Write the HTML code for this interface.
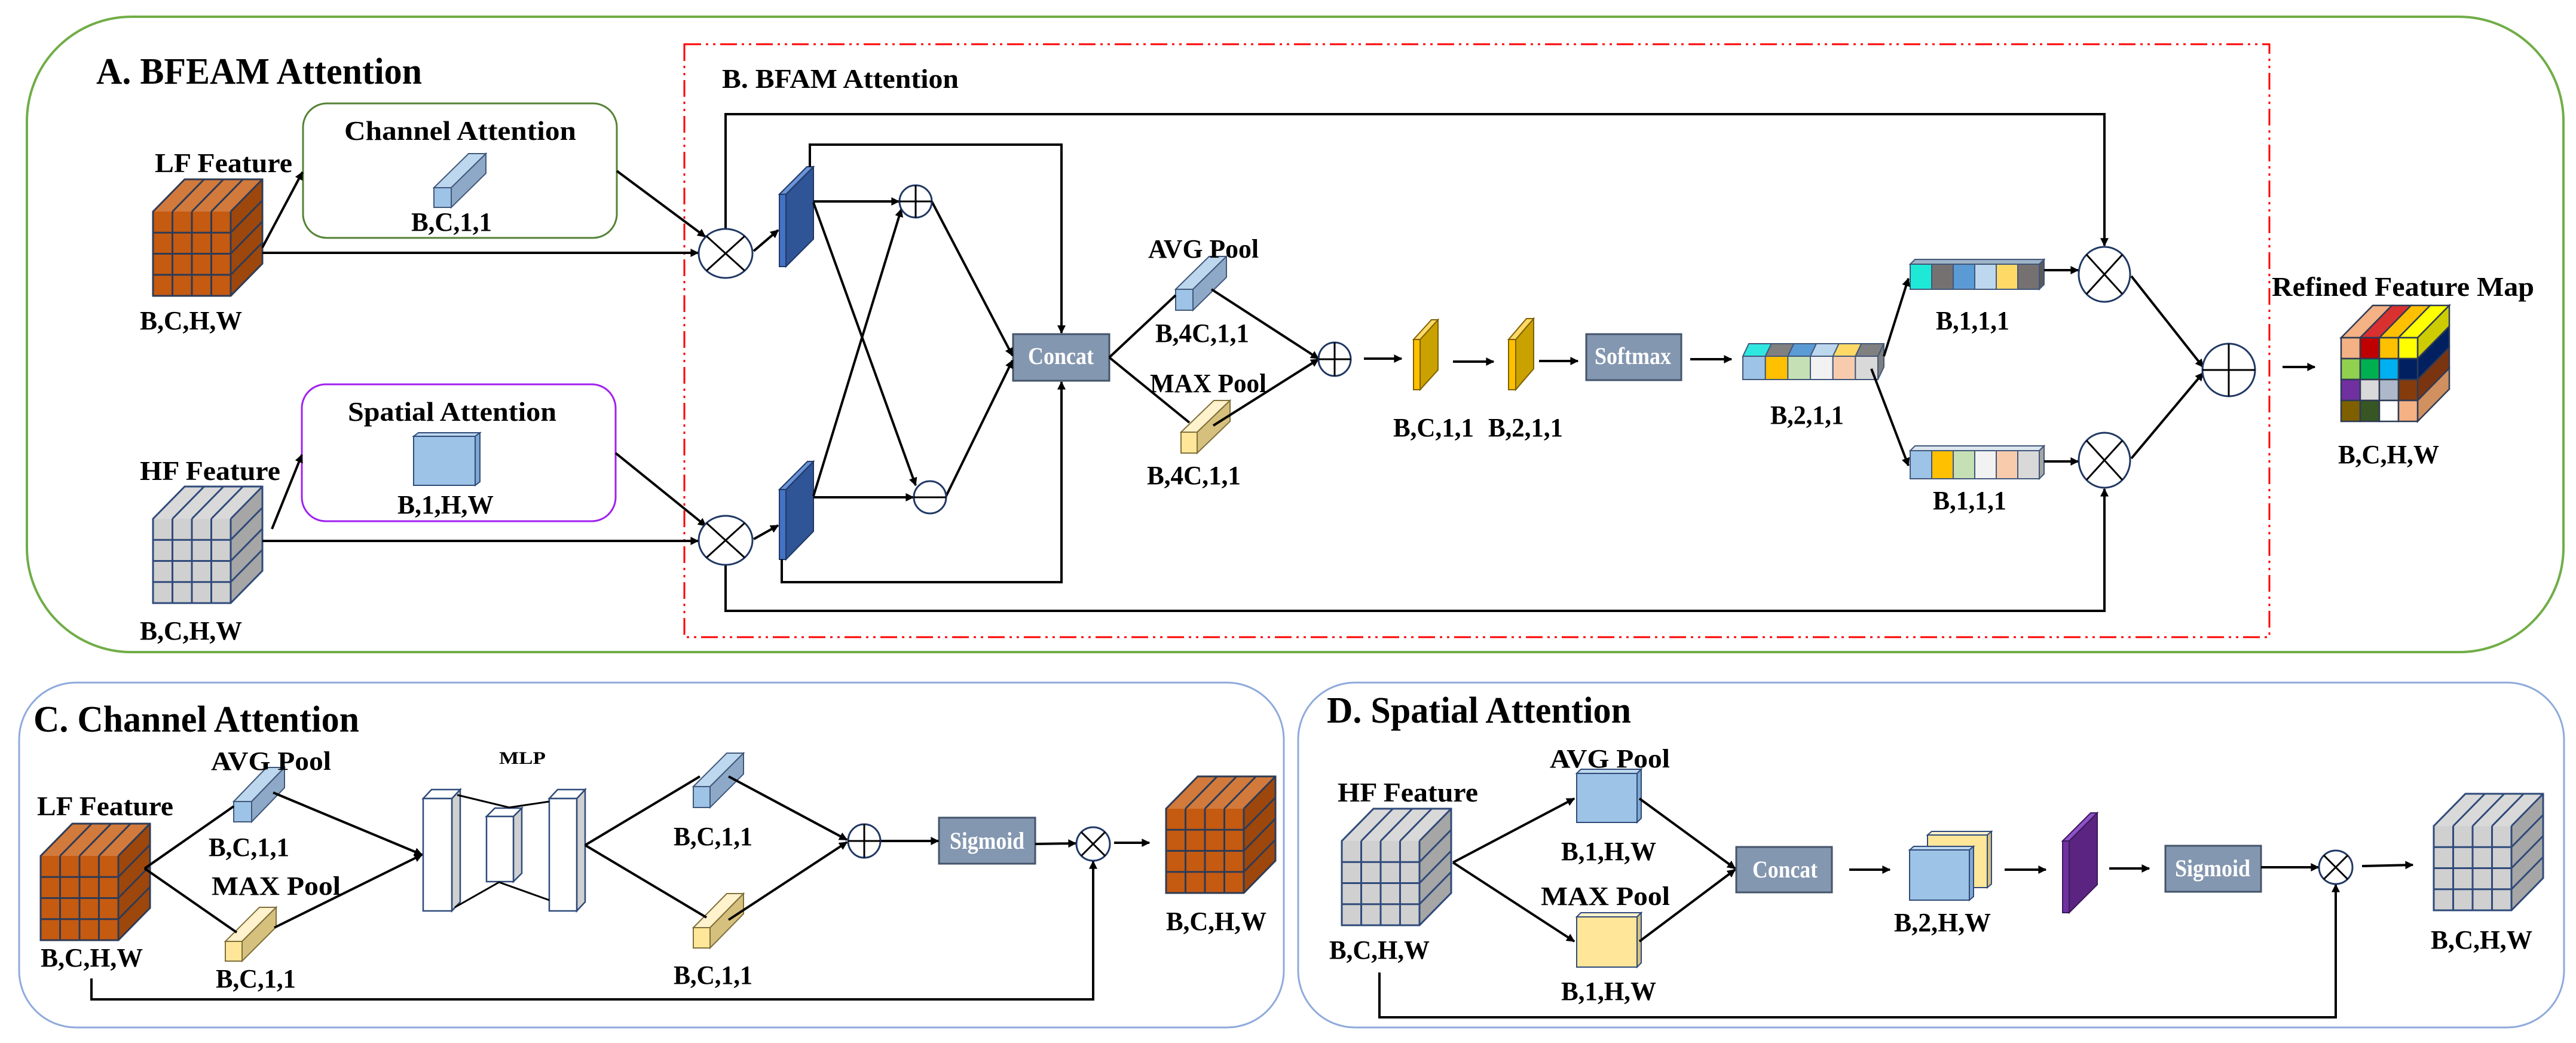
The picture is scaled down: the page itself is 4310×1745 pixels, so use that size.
<!DOCTYPE html>
<html><head><meta charset="utf-8"><style>html,body{margin:0;padding:0;background:#fff}svg{display:block}text{font-family:"Liberation Serif",serif;font-weight:bold;fill:#000}</style></head>
<body>
<svg width="4310" height="1745" viewBox="0 0 4310 1745" xmlns="http://www.w3.org/2000/svg">
<defs>
<marker id="a" viewBox="0 0 10 10" refX="9" refY="5" markerWidth="18" markerHeight="14" markerUnits="userSpaceOnUse" orient="auto"><path d="M0,0 L10,5 L0,10 z" fill="#000"/></marker>
<g id="oc">
<polygon points="0,0 53,-54 183,-54 130,0" fill="#D27A3C"/>
<polygon points="130,0 183,-54 183,87 130,141" fill="#9E470C"/>
<rect width="130" height="141" fill="#C55A11"/>
<path d="M32.5,0V141M65,0V141M97.5,0V141M0,35.25H130M0,70.5H130M0,105.75H130M32.5,0L85.5,-54M65,0L118,-54M97.5,0L150.5,-54M130,35.25L183,-18.75M130,70.5L183,16.5M130,105.75L183,51.75M0,0L53,-54H183V87L130,141H0Z M130,0L183,-54M130,0V141" fill="none" stroke="#2E3B55" stroke-width="3"/>
</g>
<g id="gc">
<polygon points="0,0 53,-54 183,-54 130,0" fill="#D9D9D9"/>
<polygon points="130,0 183,-54 183,87 130,141" fill="#A6A6A6"/>
<rect width="130" height="141" fill="#D0D0D0"/>
<path d="M32.5,0V141M65,0V141M97.5,0V141M0,35.25H130M0,70.5H130M0,105.75H130M32.5,0L85.5,-54M65,0L118,-54M97.5,0L150.5,-54M130,35.25L183,-18.75M130,70.5L183,16.5M130,105.75L183,51.75M0,0L53,-54H183V87L130,141H0Z M130,0L183,-54M130,0V141" fill="none" stroke="#2F4A7A" stroke-width="3"/>
</g>
</defs>

<!-- outer boxes -->
<rect x="45" y="28" width="4244" height="1063" rx="175" ry="175" fill="none" stroke="#70AD47" stroke-width="4"/>
<rect x="32" y="1142" width="2116" height="577" rx="95" ry="95" fill="none" stroke="#8FAADC" stroke-width="3"/>
<rect x="2172" y="1142" width="2118" height="577" rx="95" ry="95" fill="none" stroke="#8FAADC" stroke-width="3"/>
<rect x="1145" y="74" width="2652" height="992" fill="none" stroke="#FF0000" stroke-width="3" stroke-dasharray="28 8 4 8 4 8"/>
<rect x="507" y="173" width="525" height="225" rx="40" fill="none" stroke="#548235" stroke-width="3"/>
<rect x="505" y="643" width="525" height="229" rx="40" fill="none" stroke="#A020F0" stroke-width="3"/>

<!-- cubes -->
<use href="#oc" x="256" y="354"/>
<use href="#gc" x="256" y="868"/>
<use href="#oc" x="68" y="1432"/>
<use href="#oc" x="1951" y="1353"/>
<use href="#gc" x="2245" y="1407"/>
<use href="#gc" x="4072" y="1382"/>

<!-- refined cube -->
<g transform="translate(3917,565)" stroke="#2E3B55" stroke-width="2.5">
<polygon points="0,0 53,-54 85,-54 32,0" fill="#F4B183"/>
<polygon points="32,0 85,-54 117,-54 64,0" fill="#D93030"/>
<polygon points="64,0 117,-54 149,-54 96,0" fill="#FFC000"/>
<polygon points="96,0 149,-54 181,-54 128,0" fill="#FFFF00"/>
<polygon points="128,0 181,-54 181,-19 128,35" fill="#CCCC00"/>
<polygon points="128,35 181,-19 181,16 128,70" fill="#002060"/>
<polygon points="128,70 181,16 181,51 128,105" fill="#7A3510"/>
<polygon points="128,105 181,51 181,86 128,140" fill="#D09060"/>
<rect x="0" y="0" width="32" height="35" fill="#F4B183"/><rect x="32" y="0" width="32" height="35" fill="#C00000"/><rect x="64" y="0" width="32" height="35" fill="#FFC000"/><rect x="96" y="0" width="32" height="35" fill="#FFFF00"/>
<rect x="0" y="35" width="32" height="35" fill="#92D050"/><rect x="32" y="35" width="32" height="35" fill="#00B050"/><rect x="64" y="35" width="32" height="35" fill="#00B0F0"/><rect x="96" y="35" width="32" height="35" fill="#002060"/>
<rect x="0" y="70" width="32" height="35" fill="#7030A0"/><rect x="32" y="70" width="32" height="35" fill="#D9D9D9"/><rect x="64" y="70" width="32" height="35" fill="#ADB9CA"/><rect x="96" y="70" width="32" height="35" fill="#843C0C"/>
<rect x="0" y="105" width="32" height="35" fill="#7F6000"/><rect x="32" y="105" width="32" height="35" fill="#375623"/><rect x="64" y="105" width="32" height="35" fill="#FFFFFF"/><rect x="96" y="105" width="32" height="35" fill="#F4B183"/>
</g>

<!-- bars -->
<g stroke="#41577A" stroke-width="2">
<polygon points="726,314 784,257 813,257 755,314" fill="#BDD7EE"/><polygon points="755,314 813,257 813,290 755,347" fill="#8EA9C8"/><rect x="726" y="314" width="29" height="33" fill="#9DC3E6"/>
<polygon points="1967,484 2023,429 2052,429 1996,484" fill="#BDD7EE"/><polygon points="1996,484 2052,429 2052,464 1996,519" fill="#8EA9C8"/><rect x="1967" y="484" width="29" height="35" fill="#9DC3E6"/>
<polygon points="391,1341 446,1284 476,1284 421,1341" fill="#BDD7EE"/><polygon points="421,1341 476,1284 476,1318 421,1375" fill="#8EA9C8"/><rect x="391" y="1341" width="30" height="34" fill="#9DC3E6"/>
<polygon points="1160,1316 1216,1260 1244,1260 1188,1316" fill="#BDD7EE"/><polygon points="1188,1316 1244,1260 1244,1295 1188,1351" fill="#8EA9C8"/><rect x="1160" y="1316" width="28" height="35" fill="#9DC3E6"/>
</g>
<g stroke="#7F6F3A" stroke-width="2">
<polygon points="1976,723 2031,670 2058,670 2003,723" fill="#FFF2CC"/><polygon points="2003,723 2058,670 2058,705 2003,758" fill="#D6C07E"/><rect x="1976" y="723" width="27" height="35" fill="#FFE699"/>
<polygon points="377,1575 434,1518 462,1518 405,1575" fill="#FFF2CC"/><polygon points="405,1575 462,1518 462,1551 405,1608" fill="#D6C07E"/><rect x="377" y="1575" width="28" height="33" fill="#FFE699"/>
<polygon points="1160,1552 1216,1495 1244,1495 1188,1552" fill="#FFF2CC"/><polygon points="1188,1552 1244,1495 1244,1529 1188,1586" fill="#D6C07E"/><rect x="1160" y="1552" width="28" height="34" fill="#FFE699"/>
</g>

<!-- plates -->
<g stroke="#203864" stroke-width="2">
<polygon points="1315,325 1361,279 1361,400 1315,446" fill="#2F5597"/><polygon points="1304,325 1350,279 1361,279 1315,325" fill="#6A93D8"/><rect x="1304" y="325" width="11" height="121" fill="#4472C4"/>
<polygon points="1315,819 1361,772 1361,889 1315,936" fill="#2F5597"/><polygon points="1304,819 1351,772 1361,772 1315,819" fill="#6A93D8"/><rect x="1304" y="819" width="11" height="117" fill="#4472C4"/>
</g>
<g stroke="#7F6000" stroke-width="2">
<polygon points="2376,568 2406,535 2406,619 2376,652" fill="#C9A100"/><polygon points="2365,568 2395,535 2406,535 2376,568" fill="#FFD966"/><rect x="2365" y="568" width="11" height="84" fill="#FFC000"/>
<polygon points="2536,568 2566,533 2566,617 2536,652" fill="#C9A100"/><polygon points="2524,568 2554,533 2566,533 2536,568" fill="#FFD966"/><rect x="2524" y="568" width="12" height="84" fill="#FFC000"/>
</g>
<g stroke="#3A1A5A" stroke-width="2">
<polygon points="3462,1407 3509,1360 3509,1480 3462,1527" fill="#5B2480"/><polygon points="3451,1407 3498,1360 3509,1360 3462,1407" fill="#9050C8"/><rect x="3451" y="1407" width="11" height="120" fill="#7030A0"/>
</g>

<!-- MLP blocks -->
<g stroke="#2F4A7A" stroke-width="2.5">
<polygon points="756,1336 770,1321 770,1509 756,1524" fill="#D0D0D0"/><polygon points="708,1336 722,1321 770,1321 756,1336" fill="#fff"/><rect x="708" y="1336" width="48" height="188" fill="#fff"/>
<polygon points="859,1366 873,1352 873,1461 859,1475" fill="#D0D0D0"/><polygon points="814,1366 828,1352 873,1352 859,1366" fill="#fff"/><rect x="814" y="1366" width="45" height="109" fill="#fff"/>
<polygon points="965,1336 979,1321 979,1509 965,1524" fill="#D0D0D0"/><polygon points="919,1336 933,1321 979,1321 965,1336" fill="#fff"/><rect x="919" y="1336" width="46" height="188" fill="#fff"/>
</g>
<path d="M765,1330 L852,1351 L919,1341 M761,1518 L835,1476 L919,1506" fill="none" stroke="#000" stroke-width="3"/>

<!-- squares -->
<g stroke="#2F4A7A" stroke-width="2">
<polygon points="692,730 700,724 803,724 795,730" fill="#BDD7EE"/><polygon points="795,730 803,724 803,806 795,812" fill="#7FA8D0"/><rect x="692" y="730" width="103" height="82" fill="#9DC3E6"/>
<polygon points="2638,1294 2645,1287 2746,1287 2739,1294" fill="#BDD7EE"/><polygon points="2739,1294 2746,1287 2746,1369 2739,1376" fill="#7FA8D0"/><rect x="2638" y="1294" width="101" height="82" fill="#9DC3E6"/>
<polygon points="2638,1534 2645,1527 2746,1527 2739,1534" fill="#FFF2CC"/><polygon points="2739,1534 2746,1527 2746,1611 2739,1618" fill="#D6C07E"/><rect x="2638" y="1534" width="101" height="84" fill="#FFE699"/>
<polygon points="3225,1397 3232,1391 3332,1391 3325,1397" fill="#FFF2CC"/><polygon points="3325,1397 3332,1391 3332,1479 3325,1485" fill="#D6C07E"/><rect x="3225" y="1397" width="100" height="88" fill="#FFE699"/>
<polygon points="3195,1422 3202,1416 3302,1416 3295,1422" fill="#BDD7EE"/><polygon points="3295,1422 3302,1416 3302,1500 3295,1506" fill="#7FA8D0"/><rect x="3195" y="1422" width="100" height="84" fill="#9DC3E6"/>
</g>

<!-- colored long bars -->
<g stroke="#41577A" stroke-width="2">
<polygon points="2916,596 2926,575 2963.7,575 2953.7,596" fill="#2EE8E0"/><polygon points="2953.7,596 2963.7,575 3001.3,575 2991.3,596" fill="#808080"/><polygon points="2991.3,596 3001.3,575 3039,575 3029,596" fill="#5B9BD5"/><polygon points="3029,596 3039,575 3076.7,575 3066.7,596" fill="#BDD7EE"/><polygon points="3066.7,596 3076.7,575 3114.3,575 3104.3,596" fill="#FFD966"/><polygon points="3104.3,596 3114.3,575 3152,575 3142,596" fill="#808080"/>
<polygon points="3142,596 3152,575 3152,614 3142,635" fill="#7F7F7F"/>
<rect x="2916" y="596" width="37.7" height="39" fill="#9DC3E6"/><rect x="2953.7" y="596" width="37.7" height="39" fill="#FFC000"/><rect x="2991.3" y="596" width="37.7" height="39" fill="#C5E0B4"/><rect x="3029" y="596" width="37.7" height="39" fill="#F2F2F2"/><rect x="3066.7" y="596" width="37.7" height="39" fill="#F8CBAD"/><rect x="3104.3" y="596" width="37.7" height="39" fill="#D9D9D9"/>

<polygon points="3196,442 3204,434 3420,434 3412,442" fill="#9FB4C8"/>
<polygon points="3412,442 3420,434 3420,476 3412,484" fill="#595959"/>
<rect x="3196" y="442" width="36" height="42" fill="#1DE9D6"/><rect x="3232" y="442" width="36" height="42" fill="#767171"/><rect x="3268" y="442" width="36" height="42" fill="#5B9BD5"/><rect x="3304" y="442" width="36" height="42" fill="#BDD7EE"/><rect x="3340" y="442" width="36" height="42" fill="#FFD966"/><rect x="3376" y="442" width="36" height="42" fill="#767171"/>

<polygon points="3196,754 3204,746 3420,746 3412,754" fill="#DDE6EE"/>
<polygon points="3412,754 3420,746 3420,793 3412,801" fill="#A6A6A6"/>
<rect x="3196" y="754" width="36" height="47" fill="#9DC3E6"/><rect x="3232" y="754" width="36" height="47" fill="#FFC000"/><rect x="3268" y="754" width="36" height="47" fill="#C5E0B4"/><rect x="3304" y="754" width="36" height="47" fill="#F2F2F2"/><rect x="3340" y="754" width="36" height="47" fill="#F8CBAD"/><rect x="3376" y="754" width="36" height="47" fill="#D9D9D9"/>
</g>

<!-- gray boxes -->
<g fill="#8497B0" stroke="#44546A" stroke-width="3">
<rect x="1695" y="559" width="161" height="78"/>
<rect x="2654" y="559" width="159" height="77"/>
<rect x="1571" y="1368" width="161" height="77"/>
<rect x="2905" y="1417" width="160" height="76"/>
<rect x="3623" y="1415" width="160" height="77"/>
</g>

<!-- connectors -->
<g fill="none" stroke="#000" stroke-width="4">
<path d="M439,414 L506,288" marker-end="url(#a)"/>
<path d="M439,423 L1168,423" marker-end="url(#a)"/>
<path d="M1032,286 L1180,396" marker-end="url(#a)"/>
<path d="M455,885 L505,761" marker-end="url(#a)"/>
<path d="M439,905 L1168,905" marker-end="url(#a)"/>
<path d="M1030,758 L1181,880" marker-end="url(#a)"/>
<path d="M1214,383 V191 H3521 V411" marker-end="url(#a)"/>
<path d="M1261,420 L1302,385" marker-end="url(#a)"/>
<path d="M1355,279 V242 H1776 V557" marker-end="url(#a)"/>
<path d="M1361,337 H1504" marker-end="url(#a)"/>
<path d="M1361,339 L1532,812" marker-end="url(#a)"/>
<path d="M1261,902 L1302,879" marker-end="url(#a)"/>
<path d="M1361,832 H1528" marker-end="url(#a)"/>
<path d="M1361,830 L1508,350" marker-end="url(#a)"/>
<path d="M1308,936 V974 H1776 V639" marker-end="url(#a)"/>
<path d="M1214,946 V1022 H3521 V818" marker-end="url(#a)"/>
<path d="M1559,337 L1694,595" marker-end="url(#a)"/>
<path d="M1582,832 L1694,603" marker-end="url(#a)"/>
<path d="M1856,598 L1967,494 M1856,598 L1990,707"/>
<path d="M2027,484 L2206,600" marker-end="url(#a)"/>
<path d="M2030,712 L2206,601" marker-end="url(#a)"/>
<path d="M2282,600 H2345" marker-end="url(#a)"/>
<path d="M2431,605 H2499" marker-end="url(#a)"/>
<path d="M2575,604 H2640" marker-end="url(#a)"/>
<path d="M2828,601 H2897" marker-end="url(#a)"/>
<path d="M3152,596 L3193,466" marker-end="url(#a)"/>
<path d="M3131,617 L3193,779" marker-end="url(#a)"/>
<path d="M3420,452 H3477" marker-end="url(#a)"/>
<path d="M3420,772 H3477" marker-end="url(#a)"/>
<path d="M3566,462 L3686,614" marker-end="url(#a)"/>
<path d="M3566,767 L3686,624" marker-end="url(#a)"/>
<path d="M3819,614 H3873" marker-end="url(#a)"/>

<path d="M242,1453 L391,1349 M242,1453 L396,1560"/>
<path d="M457,1326 L706,1430" marker-end="url(#a)"/>
<path d="M459,1552 L706,1430" marker-end="url(#a)"/>
<path d="M979,1414 L1171,1299 M979,1414 L1182,1535"/>
<path d="M1219,1299 L1417,1405" marker-end="url(#a)"/>
<path d="M1219,1539 L1417,1409" marker-end="url(#a)"/>
<path d="M1473,1407 H1570" marker-end="url(#a)"/>
<path d="M1732,1412 L1800,1411" marker-end="url(#a)"/>
<path d="M1864,1410 H1923" marker-end="url(#a)"/>
<path d="M153,1637 V1672 H1829 V1441" marker-end="url(#a)"/>

<path d="M2431,1443 L2634,1336" marker-end="url(#a)"/>
<path d="M2431,1443 L2634,1575" marker-end="url(#a)"/>
<path d="M2743,1336 L2903,1453" marker-end="url(#a)"/>
<path d="M2743,1575 L2903,1455" marker-end="url(#a)"/>
<path d="M3094,1455 H3162" marker-end="url(#a)"/>
<path d="M3354,1455 H3423" marker-end="url(#a)"/>
<path d="M3529,1453 H3596" marker-end="url(#a)"/>
<path d="M3783,1451 H3879" marker-end="url(#a)"/>
<path d="M3952,1449 L4037,1447" marker-end="url(#a)"/>
<path d="M2308,1627 V1702 H3908 V1480" marker-end="url(#a)"/>
</g>

<!-- circles -->
<g fill="#fff" stroke="#203864" stroke-width="3">
<ellipse cx="1214" cy="424" rx="45" ry="41"/>
<ellipse cx="1214" cy="904" rx="45" ry="41"/>
<ellipse cx="3521" cy="459" rx="43" ry="46"/>
<ellipse cx="3521" cy="770" rx="43" ry="46"/>
<ellipse cx="1829" cy="1412" rx="28" ry="28"/>
<ellipse cx="3908" cy="1451" rx="28" ry="28"/>
<ellipse cx="1532" cy="337" rx="27" ry="27"/>
<ellipse cx="2233" cy="601" rx="27" ry="28"/>
<ellipse cx="3729" cy="619" rx="44" ry="44"/>
<ellipse cx="1446" cy="1407" rx="27" ry="28"/>
<ellipse cx="1556" cy="832" rx="27" ry="27"/>
</g>
<g stroke="#000" stroke-width="3" fill="none">
<path d="M1182,395 L1246,453 M1246,395 L1182,453"/>
<path d="M1182,875 L1246,933 M1246,875 L1182,933"/>
<path d="M3491,426 L3551,492 M3551,426 L3491,492"/>
<path d="M3491,737 L3551,803 M3551,737 L3491,803"/>
<path d="M1809,1392 L1849,1432 M1849,1392 L1809,1432"/>
<path d="M3888,1431 L3928,1471 M3928,1431 L3888,1471"/>
<path d="M1505,337 H1559 M1532,310 V364"/>
<path d="M2206,601 H2260 M2233,573 V629"/>
<path d="M3685,619 H3773 M3729,575 V663"/>
<path d="M1419,1407 H1473 M1446,1379 V1435"/>
<path d="M1529,832 H1583"/>
</g>

<!-- texts -->
<text x="161" y="140" font-size="62" textLength="545" lengthAdjust="spacingAndGlyphs">A. BFEAM Attention</text>
<text x="259" y="288" font-size="46" textLength="230" lengthAdjust="spacingAndGlyphs">LF Feature</text>
<text x="234" y="551" font-size="44" textLength="171" lengthAdjust="spacingAndGlyphs">B,C,H,W</text>
<text x="576" y="234" font-size="46" textLength="388" lengthAdjust="spacingAndGlyphs">Channel  Attention</text>
<text x="688" y="386" font-size="44" textLength="135" lengthAdjust="spacingAndGlyphs">B,C,1,1</text>
<text x="234" y="803" font-size="46" textLength="235" lengthAdjust="spacingAndGlyphs">HF Feature</text>
<text x="234" y="1070" font-size="44" textLength="171" lengthAdjust="spacingAndGlyphs">B,C,H,W</text>
<text x="582" y="704" font-size="46" textLength="349" lengthAdjust="spacingAndGlyphs">Spatial Attention</text>
<text x="665" y="859" font-size="44" textLength="161" lengthAdjust="spacingAndGlyphs">B,1,H,W</text>
<text x="1208" y="147" font-size="46" textLength="396" lengthAdjust="spacingAndGlyphs">B. BFAM Attention</text>
<text x="1921" y="431" font-size="44" textLength="185" lengthAdjust="spacingAndGlyphs">AVG Pool</text>
<text x="1933" y="572" font-size="44" textLength="157" lengthAdjust="spacingAndGlyphs">B,4C,1,1</text>
<text x="1924" y="656" font-size="44" textLength="195" lengthAdjust="spacingAndGlyphs">MAX Pool</text>
<text x="1919" y="810" font-size="44" textLength="157" lengthAdjust="spacingAndGlyphs">B,4C,1,1</text>
<text x="1720" y="609" font-size="40" textLength="110" lengthAdjust="spacingAndGlyphs" style="fill:#fff">Concat</text>
<text x="2331" y="730" font-size="44" textLength="135" lengthAdjust="spacingAndGlyphs">B,C,1,1</text>
<text x="2490" y="730" font-size="44" textLength="125" lengthAdjust="spacingAndGlyphs">B,2,1,1</text>
<text x="2668" y="609" font-size="40" textLength="128" lengthAdjust="spacingAndGlyphs" style="fill:#fff">Softmax</text>
<text x="2962" y="709" font-size="44" textLength="123" lengthAdjust="spacingAndGlyphs">B,2,1,1</text>
<text x="3239" y="551" font-size="44" textLength="123" lengthAdjust="spacingAndGlyphs">B,1,1,1</text>
<text x="3234" y="852" font-size="44" textLength="123" lengthAdjust="spacingAndGlyphs">B,1,1,1</text>
<text x="3801" y="495" font-size="46" textLength="439" lengthAdjust="spacingAndGlyphs">Refined Feature Map</text>
<text x="3912" y="775" font-size="44" textLength="169" lengthAdjust="spacingAndGlyphs">B,C,H,W</text>

<text x="56" y="1224" font-size="62" textLength="545" lengthAdjust="spacingAndGlyphs">C. Channel Attention</text>
<text x="62" y="1364" font-size="46" textLength="228" lengthAdjust="spacingAndGlyphs">LF Feature</text>
<text x="68" y="1617" font-size="44" textLength="171" lengthAdjust="spacingAndGlyphs">B,C,H,W</text>
<text x="353" y="1288" font-size="44" textLength="201" lengthAdjust="spacingAndGlyphs">AVG Pool</text>
<text x="349" y="1432" font-size="44" textLength="135" lengthAdjust="spacingAndGlyphs">B,C,1,1</text>
<text x="354" y="1497" font-size="44" textLength="216" lengthAdjust="spacingAndGlyphs">MAX Pool</text>
<text x="361" y="1652" font-size="44" textLength="134" lengthAdjust="spacingAndGlyphs">B,C,1,1</text>
<text x="835" y="1278" font-size="30" textLength="78" lengthAdjust="spacingAndGlyphs">MLP</text>
<text x="1127" y="1414" font-size="44" textLength="132" lengthAdjust="spacingAndGlyphs">B,C,1,1</text>
<text x="1127" y="1646" font-size="44" textLength="132" lengthAdjust="spacingAndGlyphs">B,C,1,1</text>
<text x="1589" y="1420" font-size="40" textLength="125" lengthAdjust="spacingAndGlyphs" style="fill:#fff">Sigmoid</text>
<text x="1951" y="1556" font-size="44" textLength="168" lengthAdjust="spacingAndGlyphs">B,C,H,W</text>

<text x="2220" y="1209" font-size="62" textLength="509" lengthAdjust="spacingAndGlyphs">D. Spatial Attention</text>
<text x="2238" y="1341" font-size="46" textLength="235" lengthAdjust="spacingAndGlyphs">HF Feature</text>
<text x="2224" y="1604" font-size="44" textLength="168" lengthAdjust="spacingAndGlyphs">B,C,H,W</text>
<text x="2593" y="1284" font-size="44" textLength="201" lengthAdjust="spacingAndGlyphs">AVG Pool</text>
<text x="2612" y="1439" font-size="44" textLength="159" lengthAdjust="spacingAndGlyphs">B,1,H,W</text>
<text x="2578" y="1514" font-size="44" textLength="216" lengthAdjust="spacingAndGlyphs">MAX Pool</text>
<text x="2612" y="1673" font-size="44" textLength="159" lengthAdjust="spacingAndGlyphs">B,1,H,W</text>
<text x="2932" y="1468" font-size="40" textLength="109" lengthAdjust="spacingAndGlyphs" style="fill:#fff">Concat</text>
<text x="3169" y="1558" font-size="44" textLength="162" lengthAdjust="spacingAndGlyphs">B,2,H,W</text>
<text x="3639" y="1466" font-size="40" textLength="126" lengthAdjust="spacingAndGlyphs" style="fill:#fff">Sigmoid</text>
<text x="4067" y="1587" font-size="44" textLength="170" lengthAdjust="spacingAndGlyphs">B,C,H,W</text>
</svg>
</body></html>
